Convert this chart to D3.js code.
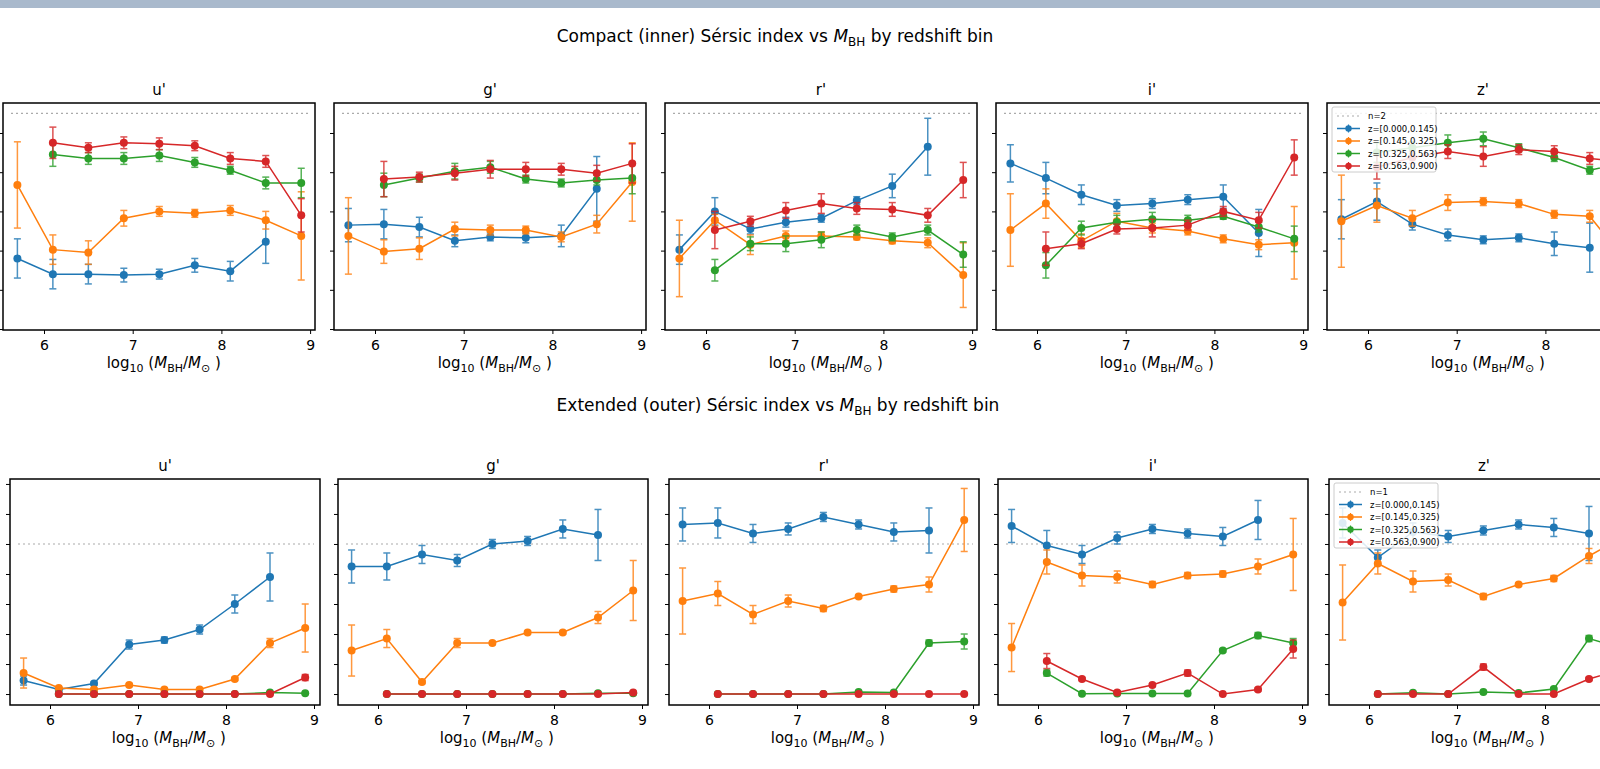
<!DOCTYPE html>
<html><head><meta charset="utf-8">
<script src="https://cdn.jsdelivr.net/npm/d3@7"></script>
<style>body{margin:0;background:#fff;overflow:hidden}svg{display:block;font-family:"DejaVu Sans",sans-serif}</style>
</head><body><svg id="c" width="1600" height="769"></svg>
<script>
const bands = ["u'","g'","r'","i'","z'"];
const masses = [5.7,6.1,6.5,6.9,7.3,7.7,8.1,8.5,8.9];
const seriesLabels = ["z=[0.000,0.145)","z=[0.145,0.325)","z=[0.325,0.563)","z=[0.563,0.900)"];
const colors = ["#1f77b4","#ff7f0e","#2ca02c","#d62728"];
const xTicks = [6,7,8,9];
const innerYTicks = [1.8,1.4,1.0,0.6,0.2,-0.2];
const outerYTicks = [0,0.2,0.4,0.6,0.8,1.0,1.2,1.4];
const N=null;
// inner (compact) Sersic index: [blue, orange, green, red]
const inner_u = [[0.52,0.36,0.36,0.35,0.36,0.45,0.39,0.69,N],[1.27,0.61,0.58,0.93,1.00,0.98,1.01,0.91,0.75],[N,1.58,1.54,1.54,1.57,1.50,1.42,1.29,1.29],[N,1.70,1.65,1.70,1.69,1.67,1.54,1.51,0.96]];
const inner_u_err = [[0.20,0.15,0.10,0.07,0.05,0.07,0.10,0.22,N],[0.44,0.15,0.12,0.08,0.05,0.04,0.05,0.09,0.45],[N,0.12,0.06,0.06,0.06,0.05,0.04,0.06,0.15],[N,0.16,0.05,0.06,0.06,0.05,0.06,0.06,0.17]];
const inner_g = [[0.86,0.87,0.84,0.70,0.74,0.73,0.75,1.23,N],[0.75,0.59,0.62,0.82,0.81,0.81,0.74,0.87,1.30],[N,1.27,1.34,1.41,1.45,1.33,1.29,1.32,1.34],[N,1.33,1.35,1.39,1.43,1.43,1.43,1.39,1.49]];
const inner_g_err = [[0.17,0.15,0.10,0.06,0.04,0.05,0.11,0.33,N],[0.39,0.12,0.11,0.07,0.05,0.04,0.05,0.09,0.40],[N,0.12,0.04,0.08,0.06,0.04,0.04,0.05,0.16],[N,0.18,0.05,0.07,0.09,0.07,0.06,0.08,0.20]];
const inner_r = [[0.61,1.00,0.82,0.89,0.93,1.11,1.26,1.66,N],[0.52,0.91,0.66,0.75,0.75,0.74,0.70,0.68,0.35],[N,0.40,0.67,0.67,0.71,0.81,0.74,0.81,0.56],[N,0.81,0.90,1.01,1.08,1.03,1.02,0.96,1.32]];
const inner_r_err = [[0.15,0.14,0.05,0.05,0.04,0.04,0.12,0.29,N],[0.39,0.06,0.10,0.05,0.04,0.03,0.03,0.05,0.33],[N,0.11,0.07,0.08,0.08,0.05,0.04,0.05,0.13],[N,0.19,0.05,0.08,0.10,0.06,0.07,0.07,0.18]];
const inner_i = [[1.49,1.34,1.17,1.06,1.08,1.12,1.15,0.78,N],[0.81,1.08,0.70,0.90,0.83,0.80,0.72,0.66,0.68],[N,0.45,0.83,0.89,0.92,0.91,0.95,0.84,0.72],[N,0.62,0.67,0.82,0.83,0.86,1.00,0.91,1.55]];
const inner_i_err = [[0.19,0.16,0.10,0.06,0.05,0.05,0.12,0.24,N],[0.37,0.15,0.07,0.08,0.05,0.04,0.04,0.05,0.37],[N,0.13,0.07,0.07,0.07,0.05,0.03,0.05,0.13],[N,0.17,0.05,0.05,0.09,0.05,0.05,0.08,0.18]];
const inner_z = [[0.92,1.10,0.87,0.76,0.71,0.73,0.67,0.63,N],[0.90,1.06,0.93,1.09,1.10,1.08,0.97,0.95,0.50],[N,1.60,1.65,1.70,1.74,1.65,1.55,1.42,1.50],[N,1.45,1.55,1.61,1.56,1.63,1.61,1.54,1.50]];
const inner_z_err = [[0.20,0.19,0.06,0.06,0.04,0.04,0.12,0.25,N],[0.47,0.17,0.08,0.08,0.04,0.04,0.04,0.06,0.30],[N,0.10,0.06,0.08,0.07,0.04,0.04,0.04,0.08],[N,0.12,0.06,0.07,0.10,0.05,0.06,0.06,0.08]];
// outer (extended) Sersic index
const outer_u = [[0.09,0.03,0.07,0.33,0.36,0.43,0.60,0.78,N],[0.14,0.04,0.03,0.06,0.03,0.03,0.10,0.34,0.44],[N,0,0,0,0,0,0,0.01,0.005],[N,0,0,0,0,0,0,0,0.11]];
const outer_u_err = [[0.03,0.01,0.01,0.03,0.02,0.03,0.06,0.16,N],[0.10,0.01,0.01,0.01,0.01,0.01,0.01,0.03,0.16],[N,0,0,0,0,0,0,0.005,0.005],[N,0,0,0,0,0,0,0,0.02]];
const outer_g = [[0.85,0.85,0.93,0.89,1.00,1.02,1.10,1.06,N],[0.29,0.37,0.08,0.34,0.34,0.41,0.41,0.51,0.69],[N,0,0,0,0,0,0,0.005,0.005],[N,0,0,0,0,0,0,0,0.011]];
const outer_g_err = [[0.11,0.09,0.06,0.04,0.03,0.03,0.06,0.17,N],[0.17,0.06,0.01,0.03,0.01,0.01,0.01,0.04,0.20],[N,0,0,0,0,0,0,0,0],[N,0,0,0,0,0,0,0,0.005]];
const outer_r = [[1.13,1.14,1.07,1.10,1.18,1.13,1.08,1.09,N],[0.62,0.67,0.53,0.62,0.57,0.65,0.70,0.73,1.16],[N,0,0,0,0,0.013,0.011,0.34,0.35],[N,0,0,0,0,0,0,0,0]];
const outer_r_err = [[0.11,0.10,0.06,0.04,0.03,0.03,0.06,0.15,N],[0.22,0.08,0.06,0.04,0.02,0.01,0.02,0.05,0.21],[N,0,0,0,0,0,0,0.02,0.05],[N,0,0,0,0,0,0,0,0]];
const outer_i = [[1.12,0.99,0.93,1.04,1.10,1.07,1.05,1.16,N],[0.31,0.88,0.79,0.78,0.73,0.79,0.80,0.85,0.93],[N,0.14,0.002,0.004,0.004,0.004,0.29,0.39,0.34],[N,0.22,0.10,0.01,0.06,0.14,0,0.03,0.30]];
const outer_i_err = [[0.11,0.10,0.06,0.04,0.03,0.03,0.06,0.13,N],[0.16,0.08,0.07,0.04,0.02,0.02,0.02,0.05,0.24],[N,0.02,0,0,0,0,0.01,0.02,0.03],[N,0.05,0.01,0.01,0.01,0.02,0,0.01,0.06]];
const outer_z = [[1.14,0.91,1.08,1.05,1.09,1.13,1.11,1.07,N],[0.61,0.87,0.75,0.76,0.65,0.73,0.77,0.92,1.05],[N,0,0.009,0,0.014,0.007,0.034,0.37,0.30],[N,0,0,0,0.18,0,0,0.10,0.17]];
const outer_z_err = [[0.10,0.05,0.06,0.04,0.03,0.03,0.06,0.18,N],[0.25,0.07,0.07,0.04,0.02,0.01,0.02,0.05,0.10],[N,0,0,0,0,0,0,0.02,0.03],[N,0,0,0,0.02,0,0,0.01,0.02]];

const innerData=[inner_u,inner_g,inner_r,inner_i,inner_z], innerErr=[inner_u_err,inner_g_err,inner_r_err,inner_i_err,inner_z_err];
const outerData=[outer_u,outer_g,outer_r,outer_i,outer_z], outerErr=[outer_u_err,outer_g_err,outer_r_err,outer_i_err,outer_z_err];

const svg=d3.select("#c");
svg.append("rect").attr("x",0).attr("y",0).attr("width",1600).attr("height",8).attr("fill","#a9b9cc");

function row(cfg){
  svg.append("text").attr("x",cfg.titleX).attr("y",cfg.titleY).attr("text-anchor","middle").attr("font-size",17)
    .html('<tspan>'+cfg.title+' </tspan><tspan font-style="italic">M</tspan><tspan font-size="12" dy="4">BH</tspan><tspan dy="-4"> by redshift bin</tspan>');
  bands.forEach((b,bi)=>{
    const L=cfg.lefts[bi], W=cfg.width, T=cfg.top, B=cfg.bottom;
    const x=d3.scaleLinear().domain([6-(cfg.x6off)/cfg.xunit, 6+(W-cfg.x6off)/cfg.xunit]).range([L,L+W]);
    const y=d3.scaleLinear().domain(cfg.ydom).range([B,T]);
    const g=svg.append("g");
    g.append("g").attr("transform",`translate(0,${B})`).call(d3.axisBottom(x).tickValues(xTicks).tickFormat(d3.format("d")).tickSize(4))
      .call(s=>{s.select(".domain").remove();s.selectAll("text").attr("font-size",14).attr("font-family","DejaVu Sans").attr("dy","0.9em");});
    // shared y axis: tick marks only (labels fall outside the visible frame)
    g.append("g").attr("transform",`translate(${L},0)`).call(d3.axisLeft(y).tickValues(cfg.yticks).tickFormat("").tickSize(4))
      .call(s=>{s.select(".domain").remove();});
    g.append("line").attr("x1",L+8).attr("x2",L+W-6).attr("y1",y(cfg.ref)).attr("y2",y(cfg.ref))
      .attr("stroke","#aaa").attr("stroke-dasharray","2,3").attr("stroke-width",1.2);
    const data=cfg.data[bi], err=cfg.err[bi];
    data.forEach((vals,si)=>{
      const pts=masses.map((m,i)=>({m,v:vals[i],e:err[si][i]})).filter(p=>p.v!==null);
      const c=colors[si];
      g.append("path").datum(pts).attr("fill","none").attr("stroke",c).attr("stroke-width",1.5)
        .attr("d",d3.line().x(p=>x(p.m)).y(p=>y(p.v)));
      const eb=g.append("g").attr("stroke",c).attr("stroke-width",1.5).attr("opacity",0.8);
      pts.forEach(p=>{ if(p.e>0.004){
        eb.append("line").attr("x1",x(p.m)).attr("x2",x(p.m)).attr("y1",y(p.v-p.e)).attr("y2",y(p.v+p.e));
        [p.v-p.e,p.v+p.e].forEach(v=>eb.append("line").attr("x1",x(p.m)-3.5).attr("x2",x(p.m)+3.5).attr("y1",y(v)).attr("y2",y(v)));
      }});
      g.selectAll(null).data(pts).enter().append("circle").attr("cx",p=>x(p.m)).attr("cy",p=>y(p.v)).attr("r",4).attr("fill",c);
    });
    g.append("rect").attr("x",L).attr("y",T).attr("width",W).attr("height",B-T).attr("fill","none").attr("stroke","#000").attr("stroke-width",1.5);
    g.append("text").attr("x",L+W/2).attr("y",T-8).attr("text-anchor","middle").attr("font-size",15).text(b);
    g.append("text").attr("x",x(7.35)).attr("y",B+38).attr("text-anchor","middle").attr("font-size",15)
      .html('log<tspan font-size="11" dy="4">10</tspan><tspan dy="-4"> (</tspan><tspan font-style="italic">M</tspan><tspan font-size="11" dy="4">BH</tspan><tspan dy="-4">/</tspan><tspan font-style="italic">M</tspan><tspan font-size="11" dy="4">⊙</tspan><tspan dy="-4"> )</tspan>');
    if(bi===4){
      const lx=L+5, ly=T+4;
      const lg=svg.append("g");
      lg.append("rect").attr("x",lx).attr("y",ly).attr("width",104).attr("height",65).attr("rx",2)
        .attr("fill","#fff").attr("fill-opacity",0.85).attr("stroke","#ccc");
      const labels=[cfg.refLabel].concat(seriesLabels);
      labels.forEach((t,k)=>{
        const yy=ly+9+k*12.5;
        if(k===0){lg.append("line").attr("x1",lx+5).attr("x2",lx+28).attr("y1",yy).attr("y2",yy).attr("stroke","#aaa").attr("stroke-dasharray","2,3");}
        else{const c=colors[k-1];
          lg.append("line").attr("x1",lx+5).attr("x2",lx+28).attr("y1",yy).attr("y2",yy).attr("stroke",c).attr("stroke-width",1.5);
          lg.append("line").attr("x1",lx+16.5).attr("x2",lx+16.5).attr("y1",yy-4).attr("y2",yy+4).attr("stroke",c).attr("stroke-width",1.2);
          lg.append("circle").attr("cx",lx+16.5).attr("cy",yy).attr("r",3.2).attr("fill",c);}
        lg.append("text").attr("x",lx+36).attr("y",yy+3).attr("font-size",8.5).text(t);
      });
    }
  });
}
row({title:"Compact (inner) Sérsic index vs",titleX:775,titleY:42,lefts:[3,334,665,996,1327],width:312,top:103,bottom:330,
  x6off:41,xunit:88.7,ydom:[-0.21,2.106],yticks:innerYTicks,ref:2,refLabel:"n=2",data:innerData,err:innerErr});
row({title:"Extended (outer) Sérsic index vs",titleX:778,titleY:411,lefts:[10,338,669,998,1329],width:310,top:479,bottom:705,
  x6off:40,xunit:88,ydom:[-0.073,1.433],yticks:outerYTicks,ref:1,refLabel:"n=1",data:outerData,err:outerErr});
</script></body></html>
